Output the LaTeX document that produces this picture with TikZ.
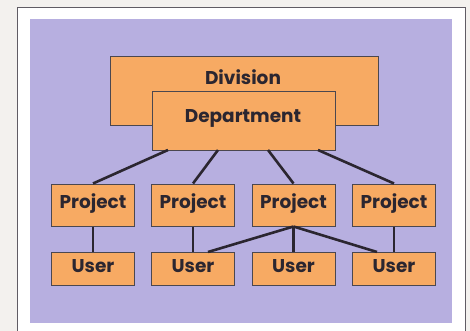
\documentclass[tikz,border=0pt]{standalone}
\usepackage{fontspec}
\setmainfont{Poppins}
\definecolor{paper}{HTML}{F3F1EE}
\definecolor{bgpurple}{HTML}{B7AFE0}
\definecolor{boxorange}{HTML}{F7AA63}
\definecolor{ink}{HTML}{2B2630}
\begin{document}
\begin{tikzpicture}[x=1pt,y=-1pt,
  box/.style={draw=ink!85,line width=1pt,fill=boxorange,inner sep=0pt},
  lbl/.style={text=ink,font=\bfseries\fontsize{18.5}{21}\selectfont,inner sep=0pt},
  link/.style={draw=ink,line width=2.6pt}]
\useasboundingbox (0,0) rectangle (470,331);
\fill[paper] (0,0) rectangle (470,331);
\draw[fill=white,draw=ink!75,line width=1pt] (17.5,7.5) rectangle (465,340);
\fill[bgpurple] (30,19) rectangle (452,323);
% top boxes
\node[box,minimum width=268,minimum height=69] (div) at (244,91.5) {};
\node[lbl] at (243,77) {Division};
\node[box,minimum width=183,minimum height=58] (dep) at (243.5,121) {};
\node[lbl] at (243,118) {Department};
% coordinates on department bottom
\coordinate (d1) at (168,150);
\coordinate (d2) at (218,150);
\coordinate (d3) at (268,150);
\coordinate (d4) at (318,150);
% projects
\foreach \i/\x in {1/93,2/193,3/293.5,4/394}{
  \node[box,minimum width=83,minimum height=42] (p\i) at (\x,205) {};
  \node[lbl] at (\x,204) {Project};
  \node[box,minimum width=83,minimum height=33] (u\i) at (\x,268.5) {};
  \node[lbl] at (\x,266) {User};
}
\coordinate (u2r) at (208,252);
\coordinate (u4l) at (377,252);
\draw[link] (d1) -- (p1.north);
\draw[link] (d2) -- (p2.north);
\draw[link] (d3) -- (p3.north);
\draw[link] (d4) -- (p4.north);
\draw[link] (p1.south) -- (u1.north);
\draw[link] (p2.south) -- (u2.north);
\draw[link] (p3.south) -- (u3.north);
\draw[link] (p4.south) -- (u4.north);
\draw[link] (p3.south) -- (u2r);
\draw[link] (p3.south) -- (u4l);
\end{tikzpicture}
\end{document}
